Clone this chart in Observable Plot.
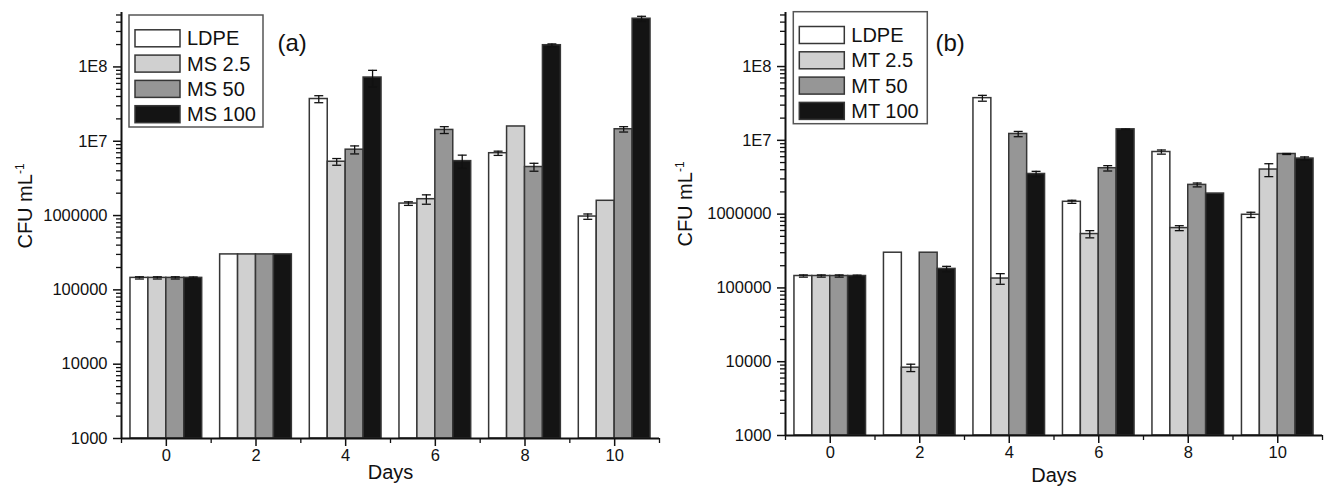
<!DOCTYPE html>
<html><head><meta charset="utf-8">
<script src="https://cdn.jsdelivr.net/npm/d3@7"></script>
<script src="https://cdn.jsdelivr.net/npm/@observablehq/plot@0.6"></script>
<style>
body{margin:0;background:#fff;}
#wrap{display:flex;width:1326px;height:494px;}
#wrap svg{display:block;}
</style></head><body><div id="wrap"></div>
<script>
const days = [0, 2, 4, 6, 8, 10];
const minorDays = [-1, 1, 3, 5, 7, 9, 11];
const seriesA = ["LDPE", "MS 2.5", "MS 50", "MS 100"];
const seriesB = ["LDPE", "MT 2.5", "MT 50", "MT 100"];
const fills = ["#ffffff", "#d0d0d0", "#969696", "#141414"];
const yDecades = [1e3, 1e4, 1e5, 1e6, 1e7, 1e8];
const yTickLabels = ["1000", "10000", "100000", "1000000", "1E7", "1E8"];

// panel (a)
const a_LDPE      = [1.45e5, 3.0e5, 3.7e7, 1.45e6, 6.9e6, 9.7e5];
const a_LDPE_err  = [5e3, 0, 4e6, 8e4, 4.5e5, 8e4];
const a_MS25      = [1.45e5, 3.0e5, 5.3e6, 1.66e6, 1.58e7, 1.58e6];
const a_MS25_err  = [5e3, 0, 5.5e5, 2.4e5, 0, 0];
const a_MS50      = [1.45e5, 3.0e5, 7.7e6, 1.42e7, 4.5e6, 1.45e7];
const a_MS50_err  = [5e3, 0, 9.5e5, 1.5e6, 5.5e5, 1.2e6];
const a_MS100     = [1.45e5, 3.0e5, 7.2e7, 5.4e6, 1.96e8, 4.45e8];
const a_MS100_err = [4e3, 0, 1.8e7, 1.1e6, 8e6, 3.5e7];

// panel (b)
const b_LDPE      = [1.45e5, 3.0e5, 3.73e7, 1.47e6, 6.95e6, 9.8e5];
const b_LDPE_err  = [5e3, 0, 3.4e6, 7e4, 4.5e5, 8e4];
const b_MT25      = [1.45e5, 8.3e3, 1.34e5, 5.37e5, 6.47e5, 4.02e6];
const b_MT25_err  = [5e3, 9.5e2, 2.2e4, 6e4, 5e4, 8e5];
const b_MT50      = [1.45e5, 3.0e5, 1.22e7, 4.19e6, 2.49e6, 6.53e6];
const b_MT50_err  = [5e3, 0, 1e6, 3.5e5, 1.5e5, 1e5];
const b_MT100     = [1.45e5, 1.81e5, 3.5e6, 1.41e7, 1.9e6, 5.66e6];
const b_MT100_err = [4e3, 1.5e4, 3e5, 1e5, 0, 3e5];

function buildRows(names, vals, errs) {
  const rows = [];
  names.forEach((s, i) => days.forEach((d, j) => rows.push({series: s, i, day: d, value: vals[i][j], err: errs[i][j]})));
  return rows;
}
const rowsA = buildRows(seriesA, [a_LDPE, a_MS25, a_MS50, a_MS100], [a_LDPE_err, a_MS25_err, a_MS50_err, a_MS100_err]);
const rowsB = buildRows(seriesB, [b_LDPE, b_MT25, b_MT50, b_MT100], [b_LDPE_err, b_MT25_err, b_MT50_err, b_MT100_err]);

const FONT = "'Liberation Sans', Arial, Helvetica, sans-serif";
const bw = 0.4;
const x1 = d => d.day - 0.8 + d.i * bw;
const x2 = d => d.day - 0.8 + (d.i + 1) * bw;
const xc = d => d.day - 0.8 + (d.i + 0.5) * bw;
const yMinor = [];
for (let e = 3; e <= 8; e++) for (let k = 2; k <= 9; k++) { const v = k * 10 ** e; if (v <= 5.4e8) yMinor.push(v); }

function panel(rows, names, tag, o) {
  const errRows = rows.filter(d => d.err > 0);
  const p = Plot.plot({
    width: 663, height: 494,
    marginLeft: o.ml, marginRight: 4, marginTop: 12, marginBottom: o.mb,
    style: "font-family:" + FONT + ";font-size:16.5px;color:#111;background:transparent;",
    x: {domain: [-1, 11], axis: null},
    y: {type: "log", domain: [1000, 5.4e8], axis: null},
    marks: [
      Plot.rect(rows, {x1, x2, y1: 1000, y2: "value", fill: d => fills[d.i], stroke: "#363636", strokeWidth: 1.5}),
      Plot.ruleX(errRows, {x: xc, y1: d => d.value - d.err, y2: d => d.value + d.err, stroke: "#111", strokeWidth: 1.3}),
      Plot.link(errRows, {x1: d => xc(d) - 0.1, x2: d => xc(d) + 0.1, y1: d => d.value + d.err, y2: d => d.value + d.err, stroke: "#111", strokeWidth: 1.3}),
      Plot.link(errRows, {x1: d => xc(d) - 0.1, x2: d => xc(d) + 0.1, y1: d => d.value - d.err, y2: d => d.value - d.err, stroke: "#111", strokeWidth: 1.3}),
      Plot.axisY({ticks: yDecades, tickSize: 8, tickFormat: () => "", label: null, strokeWidth: 1.5}),
      Plot.axisY({ticks: yMinor, tickSize: 5, tickFormat: () => "", label: null, strokeWidth: 1.3}),
      Plot.axisX({ticks: days, tickSize: 8, tickFormat: () => "", label: null, strokeWidth: 1.5}),
      Plot.axisX({ticks: minorDays, tickSize: 5, tickFormat: () => "", label: null, strokeWidth: 1.3}),
      Plot.text(yDecades, {y: d => d, text: (d, i) => yTickLabels[i], frameAnchor: "left", dx: -14, textAnchor: "end", fontSize: 16.5, fill: "#111", fontFamily: FONT}),
      Plot.text(days, {x: d => d, text: d => String(d), frameAnchor: "bottom", dy: 22, fontSize: 16.5, fill: "#111", fontFamily: FONT}),
      Plot.ruleX([-1], {stroke: "#111", strokeWidth: 2}),
      Plot.ruleY([1000], {stroke: "#111", strokeWidth: 2}),
      Plot.text(["Days"], {text: d => d, frameAnchor: "bottom", dy: o.daysDy, fontSize: 20, fill: "#111", fontFamily: FONT}),
      Plot.text([tag], {text: d => d, frameAnchor: "top-left", dx: o.tagX - o.ml, dy: 21, textAnchor: "start", fontSize: 24, fill: "#111", fontFamily: FONT})
    ]
  });
  const svg = d3.select(p);
  // y-axis title
  const t = svg.append("text")
    .attr("transform", `translate(${o.titleX},${o.titleY}) rotate(-90)`)
    .attr("text-anchor", "middle").attr("font-size", 20).attr("fill", "#111").attr("font-family", FONT);
  t.append("tspan").text("CFU mL");
  t.append("tspan").attr("dy", "-0.6em").attr("font-size", 12).text("-1");
  // legend
  const lg = svg.append("g").attr("font-family", FONT).attr("text-anchor", "start");
  lg.append("rect").attr("x", o.lx).attr("y", o.ly).attr("width", 134).attr("height", 112)
    .attr("fill", "#fff").attr("stroke", "#555").attr("stroke-width", 1.5);
  names.forEach((n, i) => {
    const cy = o.ly + 23.3 + i * 25.3;
    lg.append("rect").attr("x", o.lx + 6).attr("y", cy - 8.5).attr("width", 45).attr("height", 17)
      .attr("fill", fills[i]).attr("stroke", "#363636").attr("stroke-width", 1.5);
    lg.append("text").attr("x", o.lx + 58).attr("y", cy).attr("dy", "0.35em").attr("text-anchor", "start")
      .attr("font-size", 20).attr("fill", "#111").text(n);
  });
  return p;
}

const wrap = document.getElementById("wrap");
wrap.appendChild(panel(rowsA, seriesA, "(a)", {ml: 121, mb: 56, daysDy: 40.6, tagX: 277, titleX: 31.5, titleY: 206, lx: 129, ly: 15}));
wrap.appendChild(panel(rowsB, seriesB, "(b)", {ml: 122, mb: 59, daysDy: 46.5, tagX: 272, titleX: 28.5, titleY: 204, lx: 130.3, ly: 11.7}));
</script>
</body></html>
